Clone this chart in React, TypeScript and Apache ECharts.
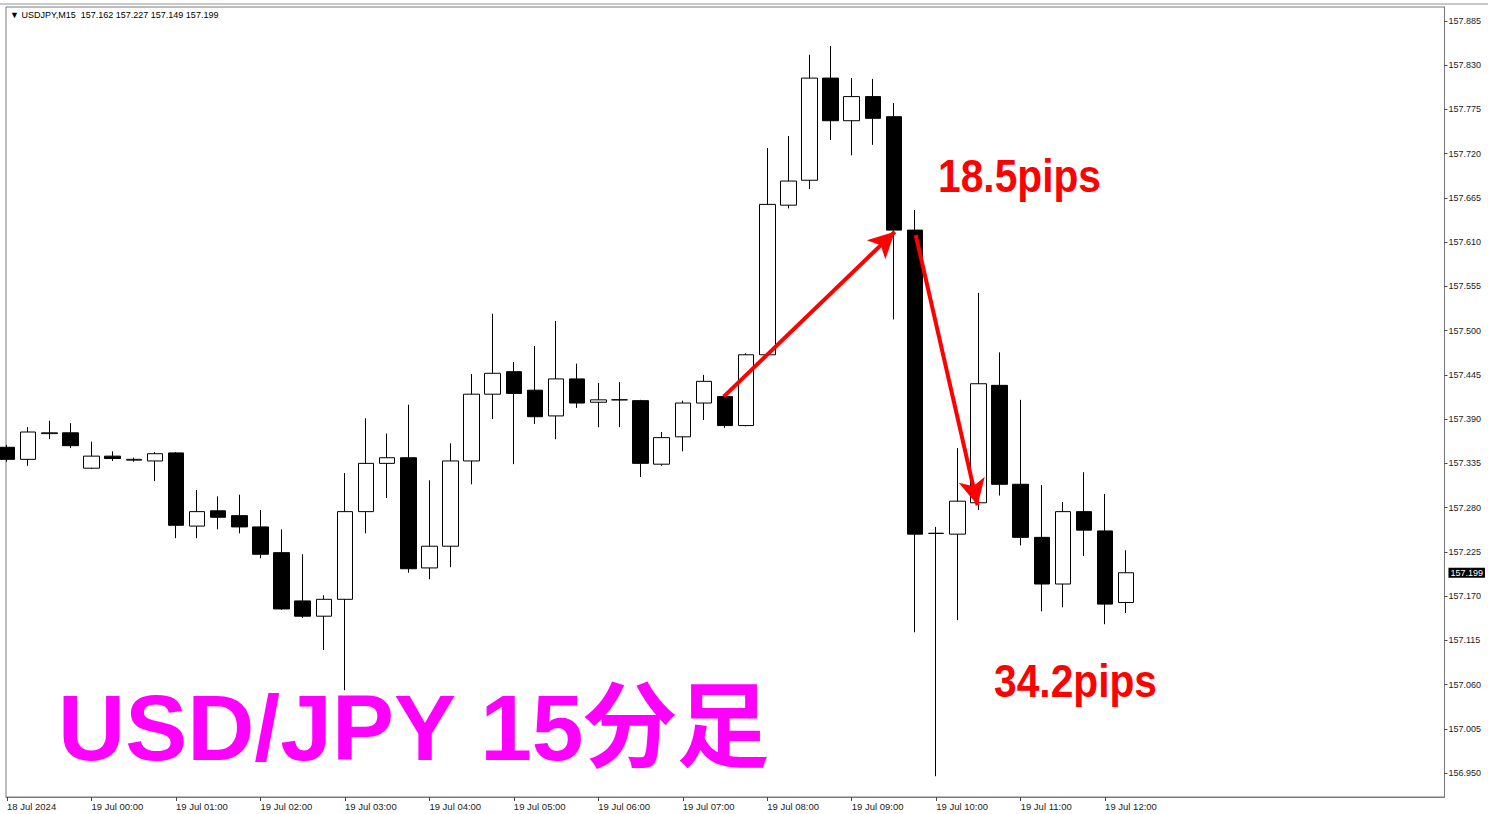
import React, { useEffect, useRef } from 'react';
import * as echarts from 'echarts';

// 15-minute candles, 18 Jul 23:00 .. 19 Jul 12:15
const opens = [
  157.355, 157.340, 157.372, 157.373, 157.329, 157.344, 157.339, 157.338, 157.348, 157.257,
  157.276, 157.270, 157.256, 157.224, 157.164, 157.145, 157.166, 157.275, 157.335, 157.342,
  157.205, 157.232, 157.338, 157.421, 157.449, 157.426, 157.394, 157.440, 157.411, 157.414,
  157.413, 157.334, 157.368, 157.410, 157.418, 157.382, 157.470, 157.656, 157.687, 157.814,
  157.761, 157.791, 157.766, 157.625, 157.248, 157.247, 157.286, 157.432, 157.309, 157.243,
  157.185, 157.275, 157.251, 157.162,
];
const closes = [
  157.340, 157.374, 157.373, 157.357, 157.344, 157.341, 157.340, 157.347, 157.258, 157.275,
  157.268, 157.256, 157.222, 157.154, 157.145, 157.166, 157.275, 157.335, 157.342, 157.204,
  157.232, 157.338, 157.421, 157.447, 157.422, 157.393, 157.440, 157.410, 157.414, 157.414,
  157.335, 157.367, 157.410, 157.437, 157.382, 157.470, 157.657, 157.686, 157.814, 157.761,
  157.791, 157.764, 157.625, 157.247, 157.248, 157.288, 157.434, 157.309, 157.243, 157.185,
  157.275, 157.252, 157.160, 157.199,
];
const lows = [
  157.337, 157.332, 157.365, 157.354, 157.328, 157.338, 157.337, 157.313, 157.242, 157.242,
  157.253, 157.248, 157.217, 157.153, 157.143, 157.103, 157.053, 157.248, 157.292, 157.199,
  157.191, 157.206, 157.309, 157.390, 157.334, 157.384, 157.365, 157.404, 157.380, 157.380,
  157.318, 157.332, 157.350, 157.389, 157.379, 157.381, 157.469, 157.652, 157.676, 157.737,
  157.718, 157.731, 157.514, 157.125, 156.946, 157.140, 157.277, 157.295, 157.233, 157.151,
  157.156, 157.220, 157.135, 157.149,
];
const highs = [
  157.358, 157.380, 157.388, 157.385, 157.362, 157.350, 157.342, 157.349, 157.349, 157.302,
  157.294, 157.296, 157.277, 157.253, 157.222, 157.171, 157.323, 157.391, 157.372, 157.408,
  157.314, 157.360, 157.446, 157.521, 157.461, 157.481, 157.512, 157.459, 157.435, 157.436,
  157.414, 157.374, 157.413, 157.445, 157.419, 157.472, 157.727, 157.742, 157.843, 157.854,
  157.814, 157.813, 157.783, 157.650, 157.256, 157.354, 157.547, 157.473, 157.414, 157.308,
  157.287, 157.324, 157.297, 157.227,
];

// one label every 4 candles (hourly)
const timeLabels = [
  '18 Jul 2024', '19 Jul 00:00', '19 Jul 01:00', '19 Jul 02:00', '19 Jul 03:00', '19 Jul 04:00',
  '19 Jul 05:00', '19 Jul 06:00', '19 Jul 07:00', '19 Jul 08:00', '19 Jul 09:00', '19 Jul 10:00',
  '19 Jul 11:00', '19 Jul 12:00',
];
const priceTicks = [
  157.885, 157.830, 157.775, 157.720, 157.665, 157.610, 157.555, 157.500, 157.445, 157.390,
  157.335, 157.280, 157.225, 157.170, 157.115, 157.060, 157.005, 156.950,
];

// annotation arrows: [candle index, price]
const arrowUp = [[33.94, 157.418], [42.04, 157.623]];
const arrowDown = [[43.03, 157.619], [45.96, 157.283]];
const pipLabels = ['18.5pips', '34.2pips'];
const titleText = 'USD/JPY 15分足';

const last = opens.length - 1;
const currentPrice = closes[last];

export default function App() {
  const ref = useRef<HTMLDivElement>(null);
  useEffect(() => {
    document.body.style.margin = '0';
    const chart = echarts.init(ref.current!, null, { renderer: 'svg' });
    const tickIdx = timeLabels.map((_, k) => k * 4);
    const header = `▼ USDJPY,M15  ${opens[last].toFixed(3)} ${highs[last].toFixed(3)} ${lows[last].toFixed(3)} ${closes[last].toFixed(3)}`;
    const option: any = {
      animation: false,
      backgroundColor: '#ffffff',
      grid: {
        left: 6, right: 43, top: 7, bottom: 17,
        show: true, borderColor: '#7a7a7a', borderWidth: 1, backgroundColor: '#ffffff',
      },
      xAxis: {
        type: 'value',
        min: -0.05,
        max: 68.07,
        axisLine: { show: true, onZero: false, lineStyle: { color: '#7a7a7a' } },
        axisTick: { show: true, customValues: tickIdx, length: 4, lineStyle: { color: '#444' } },
        axisLabel: {
          customValues: tickIdx,
          formatter: (v: number) => timeLabels[Math.round(v / 4)] ?? '',
          align: 'left',
          color: '#1a1a1a',
          fontSize: 9.5,
          fontFamily: '"Liberation Sans", Arial, sans-serif',
          margin: 4,
        },
        splitLine: { show: false },
      },
      yAxis: {
        type: 'value',
        position: 'right',
        min: 156.9202,
        max: 157.9024,
        axisLine: { show: true, onZero: false, lineStyle: { color: '#7a7a7a' } },
        axisTick: { show: true, inside: false, customValues: priceTicks, length: 3, lineStyle: { color: '#444' } },
        axisLabel: {
          customValues: [...priceTicks, currentPrice],
          formatter: (v: number) =>
            Math.abs(v - currentPrice) < 1e-6 ? `{cur|${v.toFixed(3)}}` : v.toFixed(3),
          color: '#1a1a2a',
          fontSize: 9,
          fontFamily: '"Liberation Sans", Arial, sans-serif',
          margin: 4,
          rich: {
            cur: {
              backgroundColor: '#000', color: '#fff', fontSize: 9,
              fontFamily: '"Liberation Sans", Arial, sans-serif', padding: [1, 2, 0, 2],
            },
          },
        },
        splitLine: { show: false },
      },
      series: [
        {
          type: 'candlestick',
          barWidth: 16,
          data: opens.map((o, i) => [i, o, closes[i], lows[i], highs[i]]),
          itemStyle: {
            color: '#ffffff', color0: '#000000',
            borderColor: '#000000', borderColor0: '#000000', borderWidth: 1,
          },
        },
        {
          type: 'line',
          data: [],
          silent: true,
          markLine: {
            silent: true,
            animation: false,
            symbol: ['none', 'arrow'],
            symbolSize: [20, 26],
            label: { show: false },
            lineStyle: { color: '#ff0000', width: 4, type: 'solid' },
            emphasis: { disabled: true },
            data: [
              [{ coord: arrowUp[0] }, { coord: arrowUp[1] }],
              [{ coord: arrowDown[0] }, { coord: arrowDown[1] }],
            ],
          },
        },
      ],
      graphic: [
        { type: 'rect', shape: { x: 0, y: 3, width: 1488, height: 2 }, style: { fill: '#c8c8c8' }, silent: true },
        {
          type: 'text', x: 10, y: 15,
          style: { text: header, font: '9px "Liberation Sans", "DejaVu Sans", sans-serif', fill: '#000', verticalAlign: 'middle' },
        },
        {
          type: 'text', x: 938, y: 176, scaleX: 0.886,
          style: { text: pipLabels[0], fontSize: 46, fontWeight: 'bold', fontFamily: '"Liberation Sans", Arial, sans-serif', fill: '#ff0000', verticalAlign: 'middle' },
        },
        {
          type: 'text', x: 994, y: 681, scaleX: 0.886,
          style: { text: pipLabels[1], fontSize: 46, fontWeight: 'bold', fontFamily: '"Liberation Sans", Arial, sans-serif', fill: '#ff0000', verticalAlign: 'middle' },
        },
        {
          type: 'text', x: 58, y: 728,
          style: { text: titleText, fontSize: 93, fontWeight: 'bold', fontFamily: '"Liberation Sans", "Noto Sans CJK JP", sans-serif', fill: '#ff00ff', verticalAlign: 'middle' },
        },
      ],
    };
    chart.setOption(option);
    return () => chart.dispose();
  }, []);
  return <div ref={ref} style={{ width: 1488, height: 814 }} />;
}
